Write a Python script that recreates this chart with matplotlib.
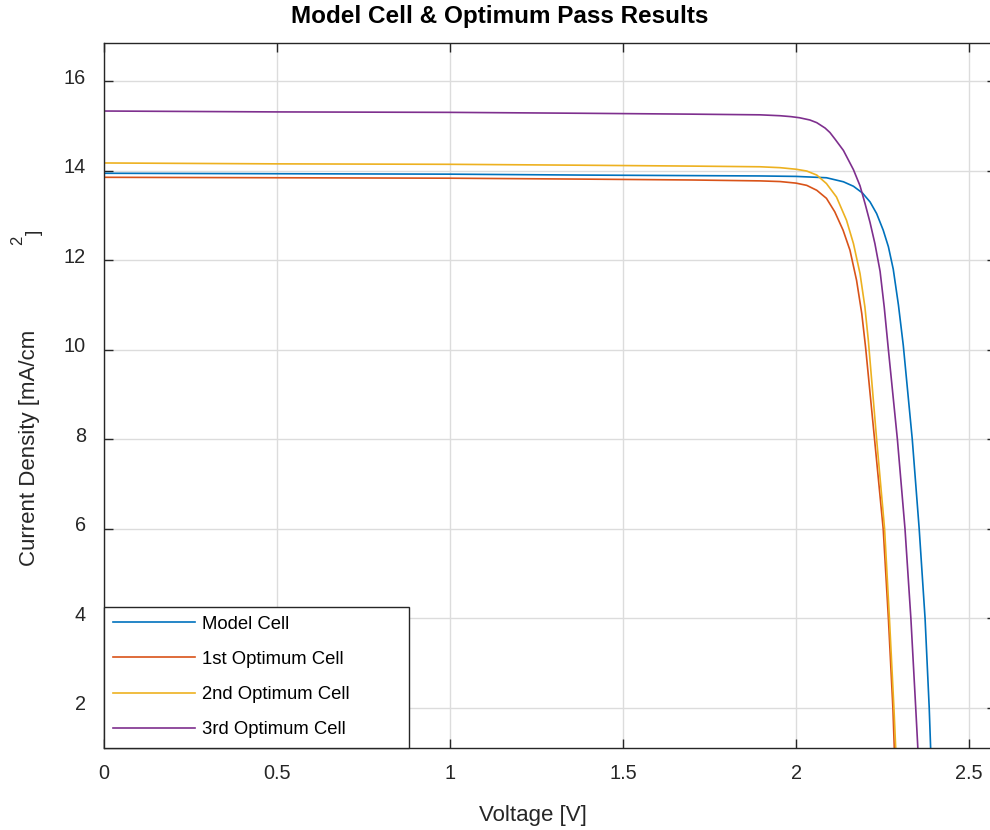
import matplotlib
matplotlib.use("Agg")
import matplotlib.pyplot as plt
import matplotlib.transforms as mtransforms
import numpy as np

plt.rcParams['font.family'] = ['Liberation Sans', 'DejaVu Sans']

# J-V curves (V in volts, J in mA/cm^2)
v_model = [0.0, 0.5, 1.0, 1.376, 1.896, 2.0, 2.088, 2.137, 2.166, 2.192, 2.214, 2.233,
           2.252, 2.267, 2.281, 2.296, 2.310, 2.336, 2.356, 2.373, 2.385, 2.389, 2.395]
j_model = [13.94, 13.93, 13.92, 13.90, 13.88, 13.87, 13.84, 13.75, 13.65, 13.50, 13.30, 13.04,
           12.67, 12.30, 11.80, 11.00, 10.10, 8.00, 6.00, 4.00, 2.00, 1.12, 0.0]

v_opt1 = [0.0, 0.5, 1.0, 1.376, 1.7, 1.896, 1.954, 2.0, 2.031, 2.060, 2.088, 2.112, 2.136,
          2.156, 2.175, 2.190, 2.201, 2.227, 2.252, 2.267, 2.280, 2.284, 2.291]
j_opt1 = [13.85, 13.84, 13.83, 13.81, 13.79, 13.77, 13.755, 13.72, 13.67, 13.56, 13.38, 13.08,
          12.67, 12.22, 11.55, 10.81, 10.06, 8.00, 6.00, 4.00, 2.00, 1.12, 0.0]

v_opt2 = [0.0, 0.5, 1.0, 1.376, 1.7, 1.896, 1.954, 2.0, 2.031, 2.060, 2.088, 2.117, 2.146,
          2.166, 2.185, 2.199, 2.209, 2.233, 2.256, 2.270, 2.283, 2.288, 2.295]
j_opt2 = [14.17, 14.15, 14.14, 14.12, 14.10, 14.085, 14.065, 14.03, 13.99, 13.90, 13.71, 13.41,
          12.89, 12.37, 11.70, 10.96, 10.21, 8.00, 6.00, 4.00, 2.00, 1.12, 0.0]

v_opt3 = [0.0, 0.5, 1.0, 1.376, 1.7, 1.896, 1.954, 1.985, 2.010, 2.040, 2.060, 2.084, 2.098,
          2.113, 2.137, 2.166, 2.185, 2.200, 2.214, 2.228, 2.243, 2.255, 2.267, 2.293,
          2.315, 2.332, 2.346, 2.352, 2.358]
j_opt3 = [15.33, 15.31, 15.30, 15.28, 15.26, 15.245, 15.225, 15.205, 15.18, 15.13, 15.07, 14.95,
          14.85, 14.70, 14.45, 14.02, 13.66, 13.25, 12.84, 12.37, 11.75, 10.95, 10.00, 8.00,
          6.00, 4.00, 2.00, 1.12, 0.0]

names = ["Model Cell", "1st Optimum Cell", "2nd Optimum Cell", "3rd Optimum Cell"]
colors = ["#0072BD", "#D95319", "#EDB120", "#7E2F8E"]

xticks = [0, 0.5, 1, 1.5, 2, 2.5]
xticklabels = ["0", "0.5", "1", "1.5", "2", "2.5"]
yticks = [2, 4, 6, 8, 10, 12, 14, 16]

fig = plt.figure(figsize=(9.9, 8.3), dpi=100)
ax = fig.add_axes([104 / 990, 1 - 747.5 / 830, 892 / 990, 704.5 / 830])

curves = [(v_model, j_model), (v_opt1, j_opt1), (v_opt2, j_opt2), (v_opt3, j_opt3)]
for (v, j), name, c in zip(curves, names, colors):
    ax.plot(v, j, color=c, linewidth=1.2, label=name)

ax.set_xlim(0, 2.578)
ax.set_ylim(1.117, 16.849)
ax.set_xticks(xticks)
ax.set_xticklabels(xticklabels)
ax.set_yticks(yticks)
ax.grid(True, color="#dcdcdc", linewidth=1.0)
ax.set_axisbelow(True)

dark = "#262626"
for s in ax.spines.values():
    s.set_color(dark)
    s.set_linewidth(1.0)
ax.tick_params(direction="in", length=6.5, width=1.0, color=dark,
               labelcolor=dark, labelsize=14.3, top=True, right=True)
ax.tick_params(axis="x", pad=12)
ax.tick_params(axis="y", pad=13)

# y tick labels sit a little above their ticks in the reference
off = mtransforms.ScaledTranslation(0, 5 / 100, fig.dpi_scale_trans)
for lab in ax.get_yticklabels():
    lab.set_transform(lab.get_transform() + off)

leg = ax.legend(loc="lower left", bbox_to_anchor=(0, 0, 305 / 892, 0.2), mode="expand",
                borderaxespad=0, fontsize=13.3, handlelength=4.43, handletextpad=0.36,
                borderpad=0.49, labelspacing=0.99, fancybox=False, framealpha=1)
leg.get_frame().set_edgecolor(dark)
leg.get_frame().set_linewidth(1.0)
for t in leg.get_texts():
    t.set_color("black")

ax.set_xlabel("Voltage [V]", fontsize=16, color=dark, va="center")
ax.xaxis.set_label_coords((533 - 104) / 892, (747.5 - 815) / 704.5)
ax.set_ylabel("Current Density [mA/cm", fontsize=16, color=dark, va="center")
ax.yaxis.set_label_coords((30 - 104) / 892, (747.5 - 447.5) / 704.5)
fig.text(17.5 / 990, 1 - 240 / 830, "2", fontsize=12, rotation=90, color=dark,
         ha="center", va="center")
fig.text(34 / 990, 1 - 232 / 830, "]", fontsize=14, rotation=90, color=dark,
         ha="center", va="center")

fig.text(500 / 990, 1 - 16 / 830, "Model Cell & Optimum Pass Results", fontsize=17.5,
         fontweight="bold", ha="center", va="center")

fig.savefig("out.png", dpi=100)
